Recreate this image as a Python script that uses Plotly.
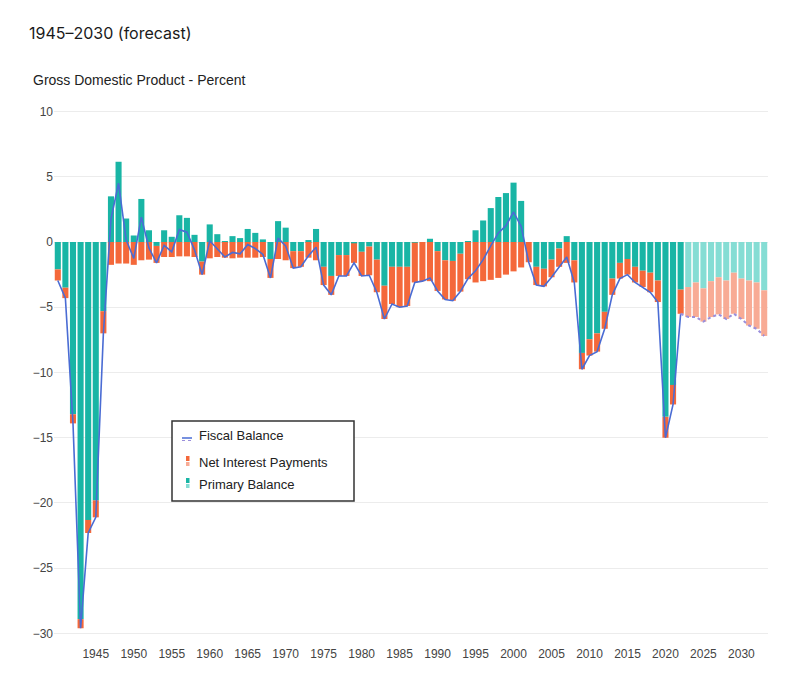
import plotly.graph_objects as go

# ---------------- data (percent of GDP) ----------------
hist_years = list(range(1940, 2023))
fc_years = list(range(2023, 2034))

primary_hist = [
    -2.1, -3.5, -13.2, -28.9, -21.3, -19.8, -5.3, 3.5, 6.15, 1.8,
    0.5, 3.3, 0.9, -0.3, 0.9, 0.4, 2.05, 1.85, 0.55, -1.5,
    1.35, 0.6, 0.05, 0.45, 0.3, 1.0, 0.7, 0.2, -1.3, 1.6,
    1.1, -0.7, -0.7, 0.15, 1.0, -1.9, -2.6, -1.0, -1.0, -0.1,
    -0.75, -0.35, -1.35, -3.35, -1.9, -1.9, -1.9, -0.05, 0.0, 0.25,
    -0.7, -1.4, -1.45, -0.9, 0.05, 0.9, 1.65, 2.6, 3.45, 3.75,
    4.55, 3.15, 0.0, -1.9, -2.05, -1.35, -0.5, 0.45, -1.4, -8.5,
    -7.45, -7.0, -5.35, -2.8, -1.6, -1.3, -1.9, -2.2, -2.35, -2.95,
    -13.4, -10.95, -3.65,
]
interest_hist = [
    -0.85, -0.8, -0.7, -0.7, -1.0, -1.3, -1.7, -1.75, -1.65, -1.65,
    -1.75, -1.4, -1.35, -1.3, -1.15, -1.15, -1.1, -1.1, -1.15, -1.0,
    -1.25, -1.15, -1.2, -1.25, -1.2, -1.2, -1.2, -1.15, -1.45, -1.3,
    -1.4, -1.3, -1.2, -1.2, -1.4, -1.4, -1.45, -1.6, -1.6, -1.5,
    -1.85, -2.2, -2.5, -2.55, -2.85, -3.1, -3.0, -3.05, -3.0, -3.0,
    -3.05, -3.0, -3.05, -2.9, -2.85, -3.1, -3.0, -2.9, -2.75, -2.5,
    -2.25, -1.95, -1.55, -1.4, -1.35, -1.35, -1.4, -1.6, -1.7, -1.25,
    -1.25, -1.4, -1.3, -1.25, -1.2, -1.2, -1.2, -1.25, -1.5, -1.65,
    -1.6, -1.5, -1.85,
]
fiscal_hist = [
    -2.95, -4.3, -13.9, -29.6, -22.3, -21.1, -7.0, 1.75, 4.5, 0.15,
    -1.25, 1.9, -0.45, -1.6, -0.25, -0.75, 0.95, 0.75, -0.6, -2.5,
    0.1, -0.55, -1.15, -0.8, -0.9, -0.2, -0.5, -0.95, -2.75, 0.3,
    -0.3, -2.0, -1.9, -1.05, -0.4, -3.3, -4.05, -2.6, -2.6, -1.6,
    -2.6, -2.55, -3.85, -5.9, -4.75, -5.0, -4.9, -3.1, -3.0, -2.75,
    -3.75, -4.4, -4.5, -3.8, -2.8, -2.2, -1.35, -0.3, 0.7, 1.25,
    2.3, 1.2, -1.55, -3.3, -3.4, -2.7, -1.9, -1.15, -3.1, -9.75,
    -8.7, -8.4, -6.65, -4.05, -2.8, -2.5, -3.1, -3.45, -3.85, -4.6,
    -15.0, -12.45, -5.5,
]
primary_fc = [-3.45, -3.1, -3.55, -3.0, -2.7, -2.95, -2.35, -2.8, -2.95, -3.1, -3.7]
interest_fc = [-2.3, -2.65, -2.55, -2.75, -2.85, -2.95, -3.15, -3.1, -3.45, -3.55, -3.5]
fiscal_fc = [-5.75, -5.75, -6.1, -5.75, -5.55, -5.9, -5.5, -5.9, -6.4, -6.65, -7.2]

x_ticks = list(range(1945, 2031, 5))
y_ticks = [10, 5, 0, -5, -10, -15, -20, -25, -30]

title_text = "1945\u20132030 (forecast)"
subtitle_text = "Gross Domestic Product - Percent"
legend_labels = ["Fiscal Balance", "Net Interest Payments", "Primary Balance"]

# ---------------- styling ----------------
TEAL = "#19b5a5"
ORANGE = "#f4683a"
TEAL_L = "#85ddd4"
SALMON = "#f8ab95"
LINE = "#4a6cd4"
LINE_FC = "#9a8fdc"

OFF = 8  # page body margin offset
W, H = 800 - OFF, 683 - OFF
ML, MR, MT, MB = 54 - OFF, 32, 105 - OFF, 43
PW, PH = W - ML - MR, H - MT - MB


def px(xp):
    return (xp - OFF - ML) / PW


def py(yp):
    return (H - MB - (yp - OFF)) / PH


fig = go.Figure()
fig.add_trace(go.Bar(x=hist_years, y=primary_hist, marker_color=TEAL,
                     marker_line_width=0, name="Primary Balance", showlegend=False))
fig.add_trace(go.Bar(x=hist_years, y=interest_hist, marker_color=ORANGE,
                     marker_line_width=0, name="Net Interest Payments", showlegend=False))
fig.add_trace(go.Bar(x=fc_years, y=primary_fc, marker_color=TEAL_L,
                     marker_line_width=0, name="Primary Balance (forecast)", showlegend=False))
fig.add_trace(go.Bar(x=fc_years, y=interest_fc, marker_color=SALMON,
                     marker_line_width=0, name="Net Interest Payments (forecast)", showlegend=False))
fig.add_trace(go.Scatter(x=hist_years, y=fiscal_hist, mode="lines",
                         line=dict(color=LINE, width=1.6), name="Fiscal Balance", showlegend=False))
fig.add_trace(go.Scatter(x=[hist_years[-1]] + fc_years, y=[fiscal_hist[-1]] + fiscal_fc,
                         mode="lines", line=dict(color=LINE_FC, width=2, dash="dot"),
                         name="Fiscal Balance (forecast)", showlegend=False))

shapes = []
annotations = []

# title + subtitle
annotations.append(dict(text=title_text, xref="paper", yref="paper", x=px(27), y=py(33),
                        xanchor="left", yanchor="middle", showarrow=False,
                        font=dict(family="Inter, Roboto, sans-serif", size=16, color="#1a1a1a")))
annotations.append(dict(text=subtitle_text, xref="paper", yref="paper", x=px(31), y=py(80),
                        xanchor="left", yanchor="middle", showarrow=False,
                        font=dict(family="Liberation Sans, Arial, sans-serif", size=14, color="#222")))

# custom legend box
shapes.append(dict(type="rect", xref="paper", yref="paper", x0=px(172), x1=px(354),
                   y0=py(501), y1=py(421), line=dict(color="#333", width=1.5),
                   fillcolor="white", layer="above"))
# fiscal balance icon
shapes.append(dict(type="line", xref="paper", yref="paper", x0=px(182), x1=px(192),
                   y0=py(438), y1=py(438), line=dict(color=LINE, width=1.5), layer="above"))
shapes.append(dict(type="line", xref="paper", yref="paper", x0=px(182), x1=px(192),
                   y0=py(440.5), y1=py(440.5), line=dict(color=LINE_FC, width=1.2, dash="dot"),
                   layer="above"))
# net interest icon
shapes.append(dict(type="rect", xref="paper", yref="paper", x0=px(186), x1=px(189.5),
                   y0=py(461), y1=py(456), fillcolor=ORANGE, line=dict(width=0), layer="above"))
shapes.append(dict(type="rect", xref="paper", yref="paper", x0=px(186), x1=px(189.5),
                   y0=py(466), y1=py(462), fillcolor=SALMON, line=dict(width=0), layer="above"))
# primary balance icon
shapes.append(dict(type="rect", xref="paper", yref="paper", x0=px(186), x1=px(189.5),
                   y0=py(483), y1=py(478), fillcolor=TEAL, line=dict(width=0), layer="above"))
shapes.append(dict(type="rect", xref="paper", yref="paper", x0=px(186), x1=px(189.5),
                   y0=py(488), y1=py(484), fillcolor=TEAL_L, line=dict(width=0), layer="above"))

for label, ypos in zip(legend_labels, [435, 462, 484]):
    annotations.append(dict(text=label, xref="paper", yref="paper", x=px(197), y=py(ypos),
                            xanchor="left", yanchor="middle", showarrow=False,
                            font=dict(family="Liberation Sans, Arial, sans-serif", size=13,
                                      color="#222")))

fig.update_layout(
    width=W, height=H,
    margin=dict(l=ML, r=MR, t=MT, b=MB),
    paper_bgcolor="white", plot_bgcolor="white",
    barmode="relative", bargap=0.2,
    showlegend=False,
    shapes=shapes, annotations=annotations,
    font=dict(family="Liberation Sans, Arial, sans-serif", size=12, color="#444"),
    xaxis=dict(range=[1939.5, 2033.5], tickvals=x_ticks, ticktext=[str(v) for v in x_ticks],
               showgrid=False, zeroline=False, showline=False, ticks="",
               ticklabelstandoff=5, tickfont=dict(size=12, color="#444")),
    yaxis=dict(range=[-30.5, 10.5], tickvals=y_ticks, showgrid=True, gridcolor="#ececec",
               gridwidth=1, zeroline=False, showline=False, ticks="",
               tickfont=dict(size=12, color="#444")),
)

fig.write_html("out.html")
